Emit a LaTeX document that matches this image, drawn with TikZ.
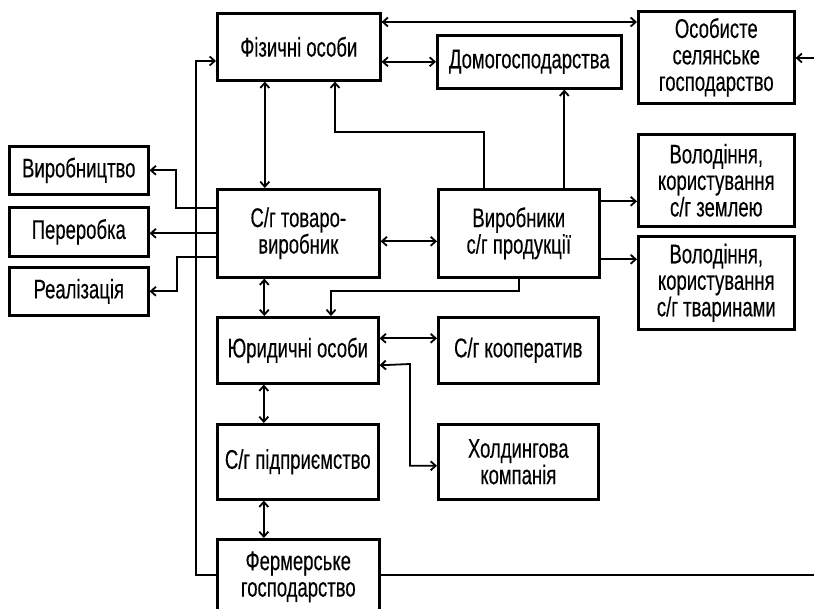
\documentclass[tikz,border=0pt]{standalone}
\usepackage{fontspec}
\setmainfont{Liberation Sans}[FakeStretch=0.685,FakeBold=0.3]
\usetikzlibrary{arrows.meta}
\tikzset{
  boxnode/.style={draw, line width=2.6pt, anchor=north west, align=center, inner sep=0pt,
    font=\fontsize{27}{26.5}\selectfont},
  conn/.style={line width=1.8pt},
  arr/.style={conn, -{Straight Barb[length=5pt,width=9pt]}},
  arrb/.style={conn, {Straight Barb[length=5pt,width=9pt]}-{Straight Barb[length=5pt,width=9pt]}}
}
\begin{document}
\begin{tikzpicture}[x=1pt,y=-1pt]
\useasboundingbox (0,0) rectangle (814,609);
% boxes
\node[boxnode, minimum width=163pt, minimum height=67pt] (fiz) at (216,12) {Фізичні особи};
\node[boxnode, minimum width=184pt, minimum height=53pt] (dom) at (436,34) {Домогосподарства};
\node[boxnode, minimum width=156pt, minimum height=92pt] (osob) at (637,10) {Особисте\\селянське\\господарство};
\node[boxnode, minimum width=139pt, minimum height=48pt] (vyrobn) at (8,145) {Виробництво};
\node[boxnode, minimum width=139pt, minimum height=49pt] (perer) at (8,206) {Переробка};
\node[boxnode, minimum width=139pt, minimum height=48pt] (real) at (8,266) {Реалізація};
\node[boxnode, minimum width=162pt, minimum height=88pt] (tov) at (216,188) {С/г товаро-\\виробник};
\node[boxnode, minimum width=161pt, minimum height=88pt] (prod) at (437,188) {Виробники\\с/г продукції};
\node[boxnode, minimum width=156pt, minimum height=92pt] (zem) at (637,133) {Володіння,\\користування\\с/г землею};
\node[boxnode, minimum width=156pt, minimum height=93pt] (tvar) at (637,235) {Володіння,\\користування\\с/г тваринами};
\node[boxnode, minimum width=161pt, minimum height=66pt] (yur) at (216,316) {Юридичні особи};
\node[boxnode, minimum width=160pt, minimum height=66pt] (koop) at (437,316) {С/г кооператив};
\node[boxnode, minimum width=161pt, minimum height=75pt] (pidpr) at (216,423) {С/г підприємство};
\node[boxnode, minimum width=160pt, minimum height=75pt] (hold) at (437,423) {Холдингова\\компанія};
\node[boxnode, minimum width=162pt, minimum height=75pt] (ferm) at (216,538) {Фермерське\\господарство};
% coordinates
\coordinate (rin) at (814,58);
\coordinate (rout) at (814,575);
\coordinate (k1) at (335,132);
\coordinate (k2) at (331,291);
\coordinate (k3) at (410,364);
\coordinate (k4) at (196,575);
\coordinate (k5) at (196,61);
\coordinate (c1) at (176,208);
\coordinate (c2) at (177,257);
% connectors
\draw[arrb] ([yshift=-10pt]fiz.north east) -- ([yshift=-10pt]fiz.north east -| osob.west);
\draw[arr] (rin) -- (rin -| osob.east);
\draw[arrb] (dom.west -| fiz.east) -- (dom.west);
\draw[arrb] ([xshift=-34pt]fiz.south) -- ([xshift=-34pt]fiz.south |- tov.north);
\draw[arr] ([xshift=-34.5pt]prod.north) |- (k1) -- (k1 |- fiz.south);
\draw[arr] ([xshift=45.5pt]prod.north) -- ([xshift=45.5pt]prod.north |- dom.south);
\draw[arrb] ([yshift=-8pt]tov.east) -- ([yshift=-8pt]tov.east -| prod.west);
\draw[arr] ([yshift=32pt]prod.east) -- ([yshift=32pt]prod.east -| zem.west);
\draw[arr] ([yshift=-26pt]prod.east) -- ([yshift=-26pt]prod.east -| tvar.west);
\draw[arr] (c1 -| tov.west) -- (c1) |- (vyrobn.east);
\draw[arr] (tov.west) -- (tov.west -| perer.east);
\draw[arr] (c2 -| tov.west) -- (c2) |- (real.east);
\draw[arrb] ([xshift=-34pt]tov.south) -- ([xshift=-34pt]tov.south |- yur.north);
\draw[arr] (prod.south) |- (k2) -- (k2 |- yur.north);
\draw[arrb] ([yshift=12pt]yur.east) -- ([yshift=12pt]yur.east -| koop.west);
\draw[arrb] ([yshift=-15pt]yur.east) -- (k3) |- ([yshift=-4pt]hold.west);
\draw[arrb] ([xshift=-34pt]yur.south) -- ([xshift=-34pt]yur.south |- pidpr.north);
\draw[arrb] ([xshift=-34pt]pidpr.south) -- ([xshift=-34pt]pidpr.south |- ferm.north);
\draw[arr] (k4 -| ferm.west) -- (k4) -- (k5) -- (k5 -| fiz.west);
\draw[conn] (k4 -| ferm.east) -- (rout);
\end{tikzpicture}
\end{document}
